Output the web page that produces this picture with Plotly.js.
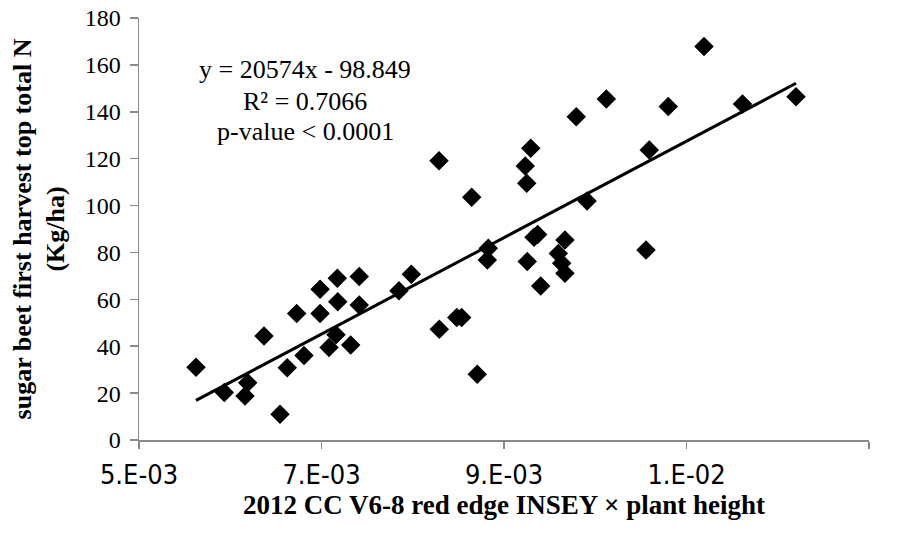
<!DOCTYPE html>
<html>
<head>
<meta charset="utf-8">
<script src="https://cdn.plot.ly/plotly-3.0.1.min.js"></script>
<style>html,body{margin:0;padding:0;background:#fff;}#chart{width:905px;height:534px;}</style>
</head>
<body>
<div id="chart"></div>
<script>
// Observed data (x: INSEY × plant height, y: top total N, kg/ha)
const xValues = [0.005625, 0.005935, 0.006162, 0.006191, 0.006370, 0.006545, 0.006625, 0.006728,
  0.006808, 0.006984, 0.006984, 0.007082, 0.007159, 0.007173, 0.007178, 0.007320, 0.007414,
  0.007414, 0.007849, 0.007984, 0.008288, 0.008291, 0.008482, 0.008536, 0.008646, 0.008707,
  0.008817, 0.008828, 0.009233, 0.009249, 0.009255, 0.009293, 0.009329, 0.009369, 0.009402,
  0.009595, 0.009632, 0.009668, 0.009668, 0.009792, 0.009910, 0.010121, 0.010556, 0.010592,
  0.010800, 0.011192, 0.011614, 0.012200];
const yValues = [31.0, 20.3, 18.8, 24.4, 44.4, 11.0, 30.8, 54.0,
  36.0, 64.3, 54.0, 39.5, 44.9, 69.0, 59.0, 40.5, 69.7,
  57.6, 63.7, 70.7, 119.1, 47.2, 52.2, 52.3, 103.5, 28.0,
  76.8, 81.8, 116.9, 109.5, 76.1, 124.4, 86.5, 87.7, 65.7,
  79.6, 75.4, 71.1, 85.3, 137.9, 101.9, 145.5, 81.0, 123.7,
  142.2, 167.8, 143.3, 146.4];

// Trendline printed on the chart
const slope = 20574;
const intercept = -98.849;
const equationLines = ["y = 20574x - 98.849", "R² = 0.7066", "p-value &lt; 0.0001"];

// Axis ticks
const xTickVals = [0.005, 0.007, 0.009, 0.011, 0.013];
const xTickText = ["5.E-03", "7.E-03", "9.E-03", "1.E-02", "1.E-02"];
const yTickVals = [0, 20, 40, 60, 80, 100, 120, 140, 160, 180];

const xMin = Math.min(...xValues), xMax = Math.max(...xValues);
const trendX = [xMin, xMax];
const trendY = trendX.map(v => slope * v + intercept);

const serif = "Liberation Serif, Times New Roman, serif";
const narrow = "Liberation Sans Narrow, Arial Narrow, DejaVu Sans Condensed, sans-serif";
const axisGray = "#8a8a8a";

const data = [
  {x: xValues, y: yValues, type: "scatter", mode: "markers",
   marker: {symbol: "diamond", size: 15, color: "#000"}, hoverinfo: "x+y"},
  {x: trendX, y: trendY, type: "scatter", mode: "lines",
   line: {color: "#000", width: 3}, hoverinfo: "skip"}
];

const annY = [0.8768, 0.8033, 0.7322];
const layout = {
  width: 905, height: 534,
  margin: {l: 139, r: 36, t: 18, b: 94},
  paper_bgcolor: "#fff", plot_bgcolor: "#fff",
  showlegend: false,
  xaxis: {
    range: [0.005, 0.013], tickmode: "array", tickvals: xTickVals, ticktext: xTickText,
    showgrid: false, zeroline: false, showline: true, linecolor: axisGray, linewidth: 1.5,
    ticks: "outside", ticklen: 7, tickcolor: axisGray, tickwidth: 1.5, ticklabelstandoff: 3,
    automargin: "bottom",
    tickfont: {family: narrow, size: 27, color: "#000"},
    title: {text: "2012 CC V6-8 red edge INSEY × plant height",
            font: {family: serif, size: 27, color: "#000", weight: "bold"}, standoff: 5}
  },
  yaxis: {
    range: [0, 180], tickmode: "array", tickvals: yTickVals, ticksuffix: "\u2004",
    showgrid: false, zeroline: false, showline: true, linecolor: axisGray, linewidth: 1.5,
    ticks: "outside", ticklen: 8, tickcolor: axisGray, tickwidth: 1.5, ticklabelstandoff: 4,
    automargin: "left",
    tickfont: {family: serif, size: 24, color: "#000"},
    title: {text: "sugar beet first harvest top total N<br>(Kg/ha)",
            font: {family: serif, size: 26, color: "#000", weight: "bold"}, standoff: 12}
  },
  annotations: equationLines.map((t, i) => ({
    text: t, xref: "paper", yref: "paper", x: 0.2274, y: annY[i],
    xanchor: "center", yanchor: "middle", showarrow: false,
    font: {family: serif, size: 26, color: "#000"}
  }))
};

Plotly.newPlot("chart", data, layout, {displayModeBar: false, staticPlot: true});
</script>
</body>
</html>
